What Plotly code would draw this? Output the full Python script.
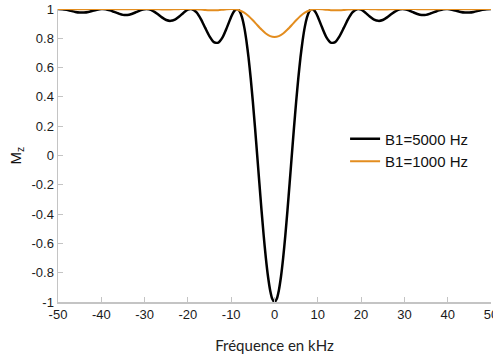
import plotly.graph_objects as go

# Frequency offset (kHz) and Mz for B1 = 5000 Hz
freq_5000 = [-50, -49, -48, -47, -46, -45, -44, -43, -42, -41,
             -40, -39, -38, -37, -36, -35, -34, -33, -32, -31,
             -30, -29, -28, -27, -26, -25, -24, -23, -22, -21,
             -20, -19, -18, -17, -16, -15, -14, -13, -12, -11,
             -10, -9.5, -9, -8.5, -8, -7.5, -7, -6.5, -6, -5.5,
             -5, -4.5, -4, -3.5, -3, -2.5, -2, -1.5, -1, -0.5,
             0, 0.5, 1, 1.5, 2, 2.5, 3, 3.5, 4, 4.5,
             5, 5.5, 6, 6.5, 7, 7.5, 8, 8.5, 9, 9.5,
             10, 11, 12, 13, 14, 15, 16, 17, 18, 19,
             20, 21, 22, 23, 24, 25, 26, 27, 28, 29,
             30, 31, 32, 33, 34, 35, 36, 37, 38, 39,
             40, 41, 42, 43, 44, 45, 46, 47, 48, 49, 50]
mz_5000 = [1.000, 0.999, 0.994, 0.987, 0.980, 0.976, 0.976, 0.980, 0.988, 0.995,
           1.000, 0.999, 0.991, 0.980, 0.969, 0.960, 0.959, 0.966, 0.978, 0.991,
           0.999, 0.998, 0.986, 0.966, 0.943, 0.925, 0.919, 0.928, 0.949, 0.975,
           0.996, 0.998, 0.977, 0.931, 0.871, 0.813, 0.774, 0.770, 0.806, 0.873,
           0.947, 0.977, 0.996, 0.999, 0.982, 0.943, 0.878, 0.786, 0.670, 0.528,
           0.367, 0.190, 0.003, -0.187, -0.373, -0.546, -0.699, -0.826, -0.921, -0.980,
           -1.000, -0.980, -0.921, -0.826, -0.699, -0.546, -0.373, -0.187, 0.003, 0.190,
           0.367, 0.528, 0.670, 0.786, 0.878, 0.943, 0.982, 0.999, 0.996, 0.977,
           0.947, 0.873, 0.806, 0.770, 0.774, 0.813, 0.871, 0.931, 0.977, 0.998,
           0.996, 0.975, 0.949, 0.928, 0.919, 0.925, 0.943, 0.966, 0.986, 0.998,
           0.999, 0.991, 0.978, 0.966, 0.959, 0.960, 0.969, 0.980, 0.991, 0.999,
           1.000, 0.995, 0.988, 0.980, 0.976, 0.976, 0.980, 0.987, 0.994, 0.999, 1.000]

# Frequency offset (kHz) and Mz for B1 = 1000 Hz
freq_1000 = list(range(-50, 51))
mz_1000 = [1.000, 1.000, 1.000, 0.999, 0.999, 0.999, 0.999, 0.999, 1.000, 1.000,
           1.000, 1.000, 1.000, 0.999, 0.999, 0.998, 0.998, 0.999, 0.999, 1.000,
           1.000, 1.000, 0.999, 0.998, 0.997, 0.997, 0.997, 0.998, 0.999, 1.000,
           1.000, 1.000, 0.998, 0.996, 0.993, 0.991, 0.991, 0.992, 0.995, 0.998,
           1.000, 0.998, 0.990, 0.975, 0.952, 0.923, 0.891, 0.860, 0.833, 0.815,
           0.809,
           0.815, 0.833, 0.860, 0.891, 0.923, 0.952, 0.975, 0.990, 0.998, 1.000,
           0.998, 0.995, 0.992, 0.991, 0.991, 0.993, 0.996, 0.998, 1.000, 1.000,
           1.000, 0.999, 0.998, 0.997, 0.997, 0.997, 0.998, 0.999, 1.000, 1.000,
           1.000, 1.000, 0.999, 0.999, 0.998, 0.998, 0.999, 0.999, 1.000, 1.000,
           1.000, 1.000, 0.999, 0.999, 0.999, 0.999, 0.999, 1.000, 1.000, 1.000]

series_names = ["B1=5000 Hz", "B1=1000 Hz"]
x_tick_vals = [-50, -40, -30, -20, -10, 0, 10, 20, 30, 40, 50]
x_tick_text = ["-50", "-40", "-30", "-20", "-10", "0", "10", "20", "30", "40", "50"]
y_tick_vals = [-1, -0.8, -0.6, -0.4, -0.2, 0, 0.2, 0.4, 0.6, 0.8, 1]
y_tick_text = ["-1", "-0.8", "-0.6", "-0.4", "-0.2", "0", "0.2", "0.4", "0.6", "0.8", "1"]

fig = go.Figure()
fig.add_trace(go.Scatter(x=freq_5000, y=mz_5000, mode="lines", name=series_names[0],
                         line=dict(color="#000000", width=2.5, shape="spline", smoothing=0.6)))
fig.add_trace(go.Scatter(x=freq_1000, y=mz_1000, mode="lines", name=series_names[1],
                         line=dict(color="#e38d1f", width=2, shape="spline", smoothing=0.6)))

axis_gray = "#c4c4c4"
fig.update_layout(
    width=493, height=360,
    margin=dict(l=58, r=2, t=9, b=58, autoexpand=False),
    paper_bgcolor="white", plot_bgcolor="white",
    hovermode=False, dragmode=False,
    font=dict(family="Liberation Sans, Arial, sans-serif", size=13, color="#1a1a1a"),
    showlegend=True,
    legend=dict(x=0.663, y=0.519, xanchor="left", yanchor="middle",
                font=dict(size=15, color="#111111"), bgcolor="rgba(0,0,0,0)",
                tracegroupgap=0),
    xaxis=dict(range=[-50, 50], tickvals=x_tick_vals, ticktext=x_tick_text,
               ticks="inside", ticklen=5, tickcolor=axis_gray, tickwidth=1,
               showline=True, linecolor=axis_gray, linewidth=1.5,
               showgrid=False, zeroline=False, automargin=False,
               ticklabeloverflow="allow",
               tickfont=dict(size=13),
               title=dict(text="Fréquence en kHz", standoff=19,
                          font=dict(family="Lato, Open Sans, sans-serif", size=15, color="#222222"))),
    yaxis=dict(range=[-1, 1], tickvals=y_tick_vals, ticktext=y_tick_text,
               ticks="inside", ticklen=5, tickcolor=axis_gray, tickwidth=1,
               showline=True, linecolor=axis_gray, linewidth=1.5,
               showgrid=False, zeroline=False, automargin=False,
               ticklabeloverflow="allow",
               tickfont=dict(size=13),
               title=dict(text="M<sub>z</sub>", standoff=6,
                          font=dict(size=15, color="#111111"))),
)

# Static plot (no drag/hover layers); remove the default 8px page margin.
fig.write_html("out.html", config={"staticPlot": True, "displayModeBar": False},
               post_script="document.body.style.margin='0px';")
